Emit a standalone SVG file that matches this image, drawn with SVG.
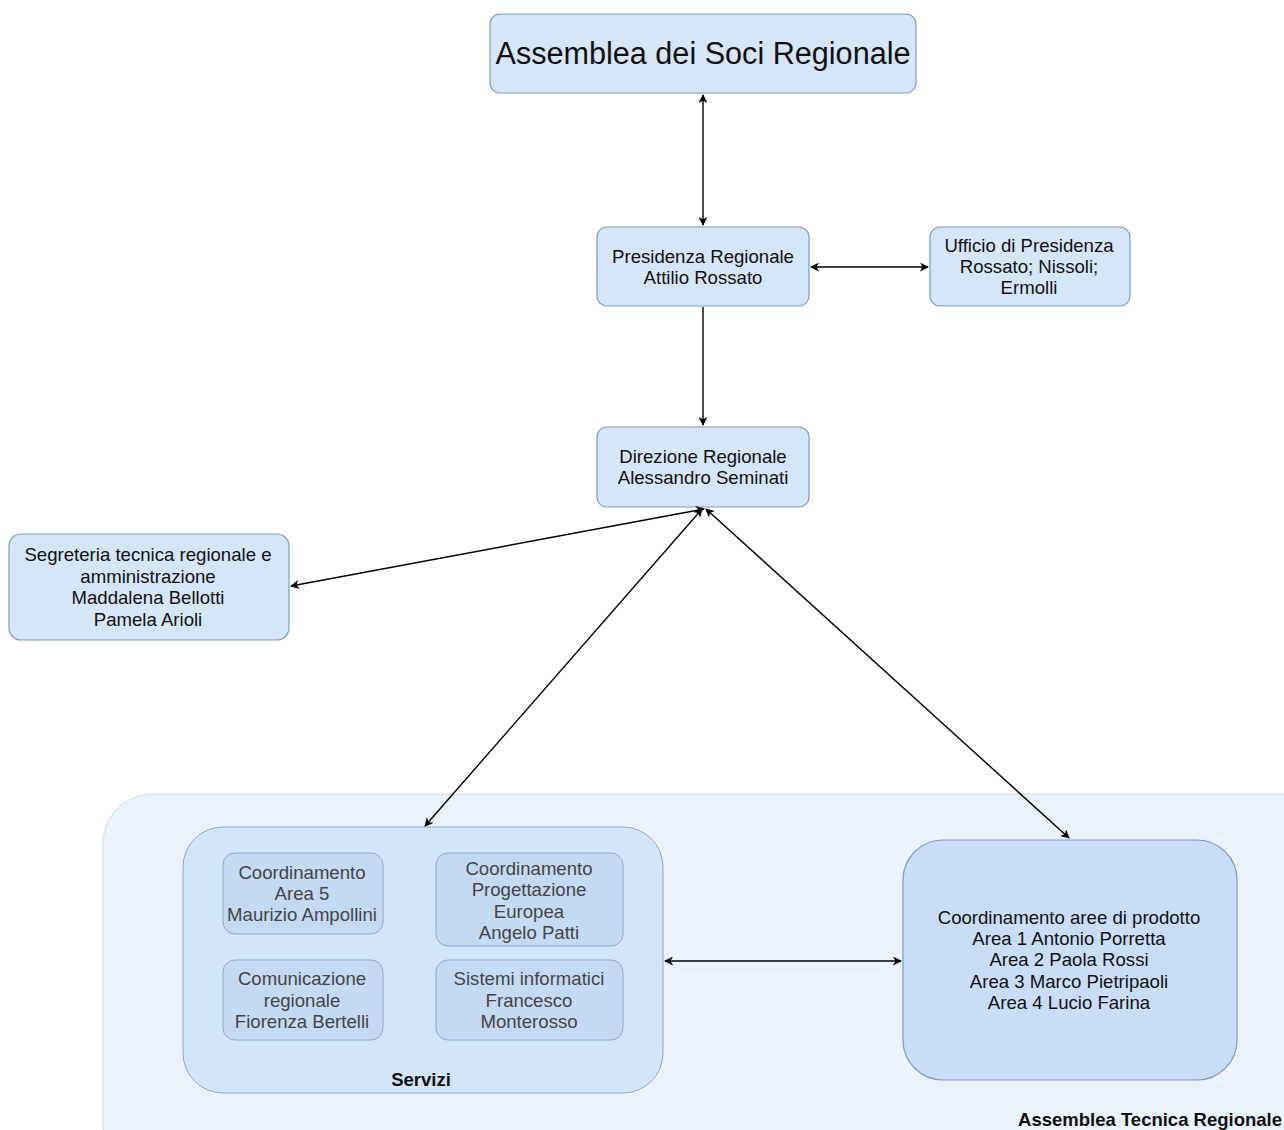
<svg xmlns="http://www.w3.org/2000/svg" width="1284" height="1130" viewBox="0 0 1284 1130">
<defs>
<marker id="ah" viewBox="0 0 10 10" refX="9" refY="5" markerWidth="9" markerHeight="9" orient="auto-start-reverse" markerUnits="userSpaceOnUse">
<path d="M0,0 L10,5 L0,10 L3,5 Z" fill="#000"/>
</marker>
<style>
.box{fill:#d6e6f9;stroke:#7c9cc4;stroke-width:1.2}
.sub{fill:#c4daf3;stroke:#8fa9c8;stroke-width:1}
.t{font-family:"Liberation Sans",Arial,sans-serif;font-size:18.6px;fill:#111;text-anchor:middle;dominant-baseline:central}
.ts{font-family:"Liberation Sans",Arial,sans-serif;font-size:18.6px;fill:#444;text-anchor:middle;dominant-baseline:central}
.b{font-family:"Liberation Sans",Arial,sans-serif;font-size:18.5px;font-weight:bold;fill:#111;dominant-baseline:central}
.c{stroke:#000;stroke-width:1.4;fill:none;marker-start:url(#ah);marker-end:url(#ah)}
</style>
</defs>
<rect width="1284" height="1130" fill="#fff"/>
<g id="assemblea-tecnica">
<rect x="103" y="794" width="1230" height="380" rx="50" fill="#eaf3fd" stroke="#d8dde3" stroke-width="1.2"/>
<text class="b" x="1282" y="1119" text-anchor="end">Assemblea Tecnica Regionale</text>
</g>
<g id="servizi">
<rect x="183" y="827" width="480" height="266" rx="40" fill="#d3e5f8" stroke="#8fa9c8" stroke-width="1"/>
<text class="b" x="421" y="1079" text-anchor="middle">Servizi</text>
</g>
<g id="coord-area5">
<rect class="sub" x="223" y="853" width="160" height="81" rx="12"/>
<text class="ts" x="302" y="872">Coordinamento</text>
<text class="ts" x="302" y="893">Area 5</text>
<text class="ts" x="302" y="914">Maurizio Ampollini</text>
</g>
<g id="coord-europea">
<rect class="sub" x="436" y="853" width="187" height="93" rx="12"/>
<text class="ts" x="529" y="868">Coordinamento</text>
<text class="ts" x="529" y="889">Progettazione</text>
<text class="ts" x="529" y="911">Europea</text>
<text class="ts" x="529" y="932">Angelo Patti</text>
</g>
<g id="comunicazione">
<rect class="sub" x="223" y="960" width="160" height="80" rx="12"/>
<text class="ts" x="302" y="978">Comunicazione</text>
<text class="ts" x="302" y="1000">regionale</text>
<text class="ts" x="302" y="1021">Fiorenza Bertelli</text>
</g>
<g id="sistemi">
<rect class="sub" x="436" y="960" width="187" height="80" rx="12"/>
<text class="ts" x="529" y="978">Sistemi informatici</text>
<text class="ts" x="529" y="1000">Francesco</text>
<text class="ts" x="529" y="1021">Monterosso</text>
</g>
<g id="coord-aree">
<rect x="903" y="840" width="334" height="240" rx="40" fill="#c9def6" stroke="#7c9cc4" stroke-width="1.2"/>
<text class="t" x="1069" y="917">Coordinamento aree di prodotto</text>
<text class="t" x="1069" y="938">Area 1 Antonio Porretta</text>
<text class="t" x="1069" y="959">Area 2 Paola Rossi</text>
<text class="t" x="1069" y="981">Area 3 Marco Pietripaoli</text>
<text class="t" x="1069" y="1002">Area 4 Lucio Farina</text>
</g>
<g id="assemblea-soci">
<rect class="box" x="490" y="14" width="426" height="79" rx="10"/>
<text class="t" x="703" y="53" style="font-size:30.6px">Assemblea dei Soci Regionale</text>
</g>
<g id="presidenza">
<rect class="box" x="597" y="227" width="212" height="79" rx="10"/>
<text class="t" x="703" y="256">Presidenza Regionale</text>
<text class="t" x="703" y="277">Attilio Rossato</text>
</g>
<g id="ufficio">
<rect class="box" x="930" y="227" width="200" height="79" rx="10"/>
<text class="t" x="1029" y="245">Ufficio di Presidenza</text>
<text class="t" x="1029" y="266">Rossato; Nissoli;</text>
<text class="t" x="1029" y="287">Ermolli</text>
</g>
<g id="direzione">
<rect class="box" x="597" y="427" width="212" height="80" rx="10"/>
<text class="t" x="703" y="456">Direzione Regionale</text>
<text class="t" x="703" y="477">Alessandro Seminati</text>
</g>
<g id="segreteria">
<rect class="box" x="9" y="534" width="280" height="106" rx="12"/>
<text class="t" x="148" y="554">Segreteria tecnica regionale e</text>
<text class="t" x="148" y="576">amministrazione</text>
<text class="t" x="148" y="597">Maddalena Bellotti</text>
<text class="t" x="148" y="619">Pamela Arioli</text>
</g>
<g id="connectors">
<line class="c" x1="703" y1="95" x2="703" y2="225"/>
<line class="c" x1="811" y1="267" x2="928" y2="267"/>
<line x1="703" y1="307" x2="703" y2="425" stroke="#000" stroke-width="1.4" marker-end="url(#ah)"/>
<line class="c" x1="291" y1="586" x2="704" y2="509"/>
<line class="c" x1="425" y1="826" x2="702" y2="509"/>
<line class="c" x1="706" y1="509" x2="1069" y2="838"/>
<line class="c" x1="665" y1="961" x2="901" y2="961"/>
</g>
</svg>
